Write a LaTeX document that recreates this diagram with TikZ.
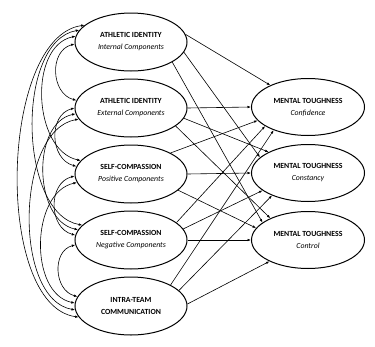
\documentclass[tikz,border=0pt]{standalone}
\usepackage{fontspec}
\setmainfont{Carlito}
\usetikzlibrary{arrows.meta,shapes.geometric}
\begin{document}
\begin{tikzpicture}[x=1pt,y=1pt,
  lat/.style={ellipse, draw, line width=1pt, minimum width=112pt, minimum height=58pt, inner sep=0pt, align=center, font=\fontsize{7.8}{12}\selectfont},
  path/.style={line width=0.6pt, -{Latex[length=3.5pt,width=2.6pt]}},
  cov/.style={line width=0.6pt, {Latex[length=3.5pt,width=2.6pt]}-{Latex[length=3.5pt,width=2.6pt]}},
  k1/.style={cov, out=195, in=165, looseness=1.2},
  k2/.style={cov, out=192, in=168, looseness=1.0},
  k3/.style={cov, out=190, in=170, looseness=0.85},
  k4/.style={cov, out=188, in=172, looseness=0.75}]
\useasboundingbox (0,0) rectangle (375,-346);
% left nodes
\node[lat] (n1) at (131,-42)  {\textbf{ATHLETIC IDENTITY}\\\textit{Internal Components}};
\node[lat] (n2) at (131,-108) {\textbf{ATHLETIC IDENTITY}\\\textit{External Components}};
\node[lat] (n3) at (131,-174) {\textbf{SELF-COMPASSION}\\\textit{Positive Components}};
\node[lat] (n4) at (131,-240) {\textbf{SELF-COMPASSION}\\\textit{Negative Components}};
\node[lat] (n5) at (131,-306) {\textbf{INTRA-TEAM}\\\textbf{COMMUNICATION}};
% right nodes
\node[lat, minimum width=113pt, minimum height=57pt] (c1) at (308,-107) {\textbf{MENTAL TOUGHNESS}\\\textit{Confidence}};
\node[lat, minimum width=113pt, minimum height=57pt] (c2) at (308,-173) {\textbf{MENTAL TOUGHNESS}\\\textit{Constancy}};
\node[lat, minimum width=113pt, minimum height=57pt] (c3) at (308,-240) {\textbf{MENTAL TOUGHNESS}\\\textit{Control}};
% structural paths
\draw[path] (n1.8)   -- (c1.150);
\draw[path] (n1.349) -- (c2.162);
\draw[path] (n1.334) -- (c3.159);
\draw[path] (n2.0)   -- (c1.180);
\draw[path] (n2.349) -- (c2.152);
\draw[path] (n2.338) -- (c3.150);
\draw[path] (n3.28)  -- (c1.195);
\draw[path] (n3.0)   -- (c2.180);
\draw[path] (n3.341) -- (c3.167);
\draw[path] (n4.21)  -- (c1.204);
\draw[path] (n4.12)  -- (c2.201);
\draw[path] (n4.0)   -- (c3.180);
\draw[path] (n5.28)  -- (c1.214);
\draw[path] (n5.18)  -- (c2.212);
\draw[path] (n5.2)   -- (c3.209);
% covariances
\draw[k1] (n1.182) to (n2.172);
\draw[k2] (n1.174) to (n3.165);
\draw[k3] (n1.167) to (n4.163);
\draw[k4] (n1.160) to (n5.192);
\draw[k1] (n2.180) to (n3.172);
\draw[k2] (n2.186) to (n4.169);
\draw[k3] (n2.192) to (n5.184);
\draw[k1] (n3.182) to (n4.175);
\draw[k2] (n3.189) to (n5.177);
\draw[k1] (n4.185) to (n5.170);
\end{tikzpicture}
\end{document}
